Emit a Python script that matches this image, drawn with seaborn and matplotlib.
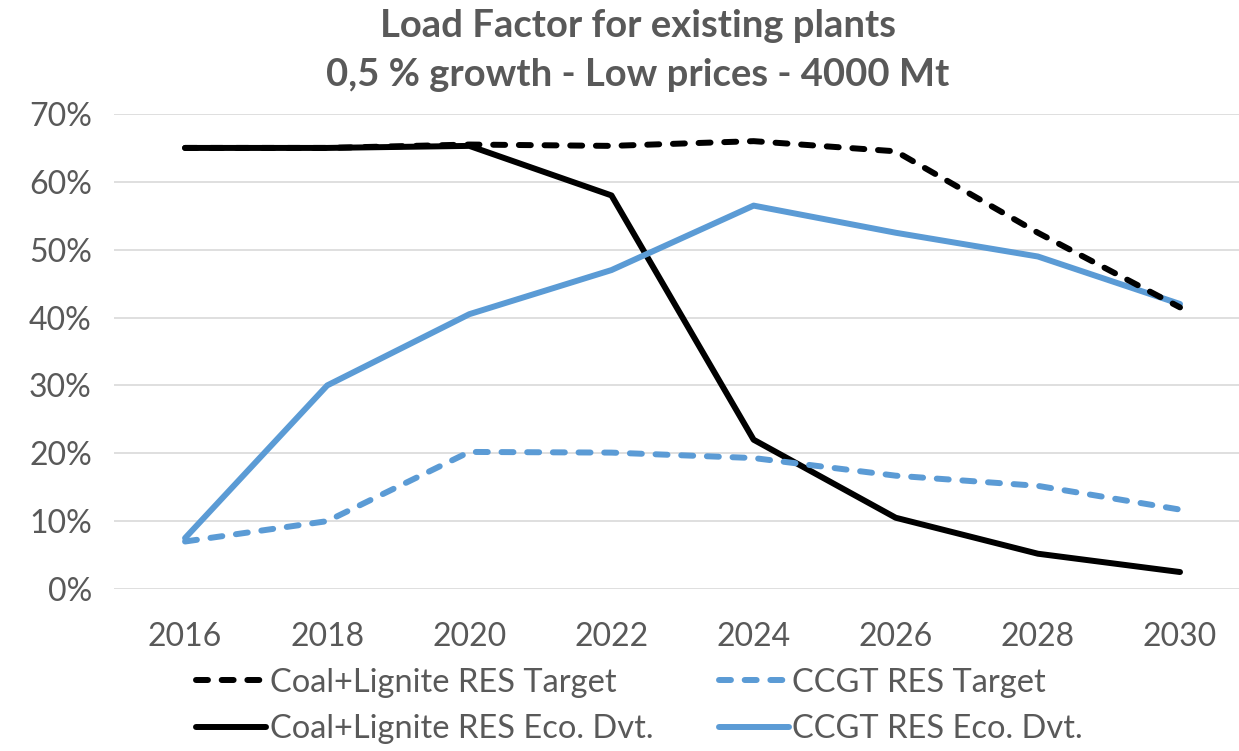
import pandas as pd
import seaborn as sns
import matplotlib.pyplot as plt
from matplotlib.lines import Line2D
from matplotlib.ticker import PercentFormatter

# data
years = [2016, 2018, 2020, 2022, 2024, 2026, 2028, 2030]
coal_target = [0.650, 0.650, 0.655, 0.653, 0.660, 0.645, 0.525, 0.415]
ccgt_target = [0.070, 0.100, 0.202, 0.201, 0.193, 0.167, 0.152, 0.117]
coal_eco = [0.650, 0.650, 0.653, 0.580, 0.220, 0.105, 0.052, 0.025]
ccgt_eco = [0.075, 0.300, 0.405, 0.470, 0.565, 0.525, 0.490, 0.420]
series_names = ["Coal+Lignite RES Target", "CCGT RES Target",
                "Coal+Lignite RES Eco. Dvt.", "CCGT RES Eco. Dvt."]

blue = "#5B9BD5"
grey = "#595959"
styles = {
    series_names[0]: dict(color="black", dashed=True),
    series_names[1]: dict(color=blue, dashed=True),
    series_names[2]: dict(color="black", dashed=False),
    series_names[3]: dict(color=blue, dashed=False),
}

df = pd.DataFrame({"year": years,
                   series_names[0]: coal_target,
                   series_names[1]: ccgt_target,
                   series_names[2]: coal_eco,
                   series_names[3]: ccgt_eco})

sns.set_theme(style="white")
plt.rcParams["font.family"] = ["Lato", "DejaVu Sans"]

fig = plt.figure(figsize=(12.39, 7.51), dpi=100)
ax = fig.add_axes([114 / 1239, (751 - 589) / 751, (1239 - 114) / 1239, 475 / 751])

lw = 4.3
dash = (0, (2.0, 2.3))
# draw the solid ones first, dashed on top
for name in [series_names[2], series_names[3], series_names[0], series_names[1]]:
    st = styles[name]
    sns.lineplot(data=df, x="year", y=name, ax=ax, color=st["color"], linewidth=lw,
                 linestyle=dash if st["dashed"] else "-",
                 dash_capstyle="round", solid_capstyle="round", legend=False)

ax.set_xlim(2015.0, 2030.83)
ax.set_ylim(0, 0.7)
ax.set_xticks(years)
ax.set_yticks([i / 10 for i in range(8)])
ax.yaxis.set_major_formatter(PercentFormatter(1.0, decimals=0))
ax.yaxis.grid(True, color="#d9d9d9", linewidth=1.2)
ax.xaxis.grid(False)
for s in ax.spines.values():
    s.set_visible(False)
ax.set_xlabel("")
ax.set_ylabel("")
ax.tick_params(axis="both", labelsize=23, labelcolor=grey, length=0)
ax.tick_params(axis="x", pad=24)
ax.tick_params(axis="y", pad=16)

fig.text(0.515, 0.966, "Load Factor for existing plants", ha="center", va="center",
         fontsize=27.5, fontweight="bold", color=grey)
fig.text(0.515, 0.9, "0,5 % growth - Low prices - 4000 Mt", ha="center", va="center",
         fontsize=27.5, fontweight="bold", color=grey)

# legend fills column by column: first column = coal, second = CCGT
order = [series_names[0], series_names[2], series_names[1], series_names[3]]
handles = []
for name in order:
    st = styles[name]
    handles.append(Line2D([], [], color=st["color"], linewidth=lw,
                          linestyle=dash if st["dashed"] else "-",
                          dash_capstyle="round", solid_capstyle="round"))
fig.legend(handles, order, ncol=2, loc="center left",
           bbox_to_anchor=(180 / 1239, (751 - 706) / 751), frameon=False,
           fontsize=23.5, labelcolor=grey, handlelength=2.15, handletextpad=0.1,
           columnspacing=2.0, labelspacing=0.5, borderpad=0)

fig.savefig("out.png", dpi=100)
